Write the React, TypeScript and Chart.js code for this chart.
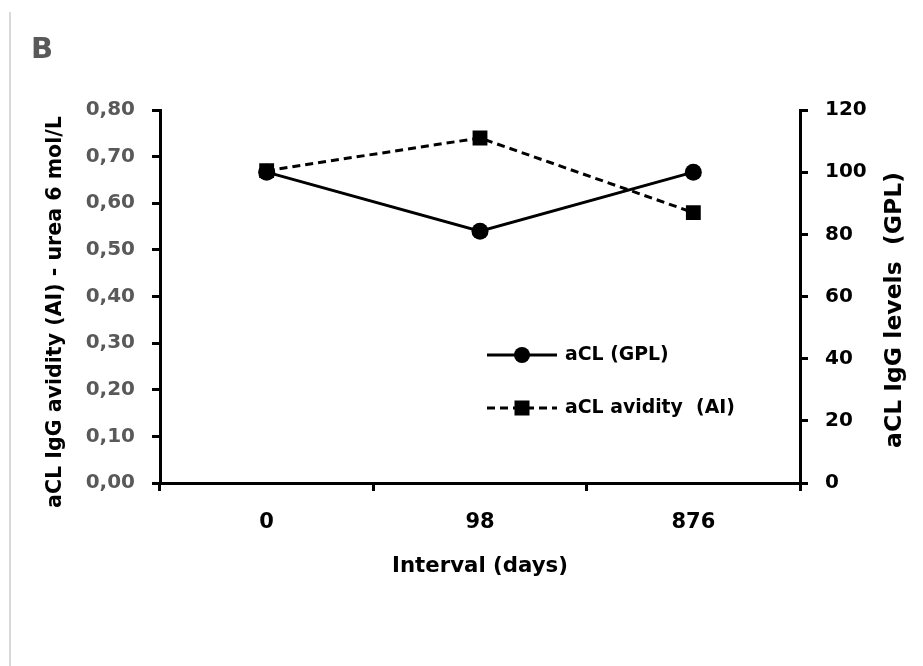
import React, { useEffect, useRef } from 'react';
import { Chart, registerables } from 'chart.js';

Chart.register(...registerables);

// ---- data ----
const categories: string[] = ['0', '98', '876'];
const gplValues: number[] = [100, 81, 100];
const avidityValues: number[] = [0.67, 0.74, 0.58];
const leftTickValues: number[] = [0, 0.1, 0.2, 0.3, 0.4, 0.5, 0.6, 0.7, 0.8];
const rightTickValues: number[] = [0, 20, 40, 60, 80, 100, 120];
const seriesNames: string[] = ['aCL (GPL)', 'aCL avidity  (AI)'];
const panelLabel = 'B';
const xTitle = 'Interval (days)';
const leftTitle = 'aCL IgG avidity (AI) - urea 6 mol/L';
const rightTitle = 'aCL IgG levels  (GPL)';

const FAMILY = '"DejaVu Sans", sans-serif';

function fitSize(ctx: CanvasRenderingContext2D, text: string, target: number): number {
  ctx.font = `bold 100px ${FAMILY}`;
  const w = ctx.measureText(text).width;
  return (100 * target) / w;
}

const decorPlugin = {
  id: 'decor',
  afterDraw(chart: any) {
    const ctx: CanvasRenderingContext2D = chart.ctx;
    const area = chart.chartArea;
    ctx.save();
    // left border line of the panel
    ctx.strokeStyle = '#d9d9d9';
    ctx.lineWidth = 2;
    ctx.beginPath();
    ctx.moveTo(10, 12);
    ctx.lineTo(10, chart.height);
    ctx.stroke();

    // panel label
    ctx.fillStyle = '#595959';
    ctx.font = `bold 29px ${FAMILY}`;
    ctx.textAlign = 'left';
    ctx.textBaseline = 'alphabetic';
    ctx.fillText(panelLabel, 31, 58);

    // axis titles
    ctx.fillStyle = '#000';
    ctx.textAlign = 'center';
    ctx.textBaseline = 'middle';
    let s = fitSize(ctx, xTitle, 176);
    ctx.font = `bold ${s}px ${FAMILY}`;
    ctx.fillText(xTitle, (area.left + area.right) / 2, 566);

    s = fitSize(ctx, leftTitle, 392);
    ctx.font = `bold ${s}px ${FAMILY}`;
    ctx.save();
    ctx.translate(56, 312);
    ctx.rotate(-Math.PI / 2);
    ctx.fillText(leftTitle, 0, 0);
    ctx.restore();

    s = fitSize(ctx, rightTitle, 276);
    ctx.font = `bold ${s}px ${FAMILY}`;
    ctx.save();
    ctx.translate(895, 310);
    ctx.rotate(-Math.PI / 2);
    ctx.fillText(rightTitle, 0, 0);
    ctx.restore();

    // legend
    const ls = fitSize(ctx, seriesNames[1], 170);
    const rows = [355, 408];
    const x0 = 487, x1 = 557, xm = 522;
    ctx.strokeStyle = '#000';
    ctx.fillStyle = '#000';
    ctx.lineWidth = 3;
    rows.forEach((y, i) => {
      ctx.setLineDash(i === 0 ? [] : [8, 5]);
      ctx.beginPath();
      ctx.moveTo(x0, y);
      ctx.lineTo(x1, y);
      ctx.stroke();
      ctx.setLineDash([]);
      if (i === 0) {
        ctx.beginPath();
        ctx.arc(xm, y, 8, 0, Math.PI * 2);
        ctx.fill();
      } else {
        ctx.fillRect(xm - 7.5, y - 7.5, 15, 15);
      }
      ctx.font = `bold ${ls}px ${FAMILY}`;
      ctx.textAlign = 'left';
      ctx.textBaseline = 'middle';
      ctx.fillText(seriesNames[i], 565, y);
    });
    ctx.restore();
  },
};

export default function App() {
  const ref = useRef<HTMLCanvasElement | null>(null);
  useEffect(() => {
    if (!ref.current) return;
    const tickFont = { family: FAMILY, size: 20, weight: 'bold' as const };
    const gridOpts = {
      drawOnChartArea: false,
      drawTicks: true,
      tickLength: 8,
      color: '#000',
      tickColor: '#000',
      lineWidth: 3,
      tickWidth: 3,
    };
    const chart = new Chart(ref.current, {
      type: 'line',
      data: {
        labels: categories,
        datasets: [
          {
            label: seriesNames[0],
            data: gplValues,
            yAxisID: 'y1',
            order: 0,
            borderColor: '#000',
            backgroundColor: '#000',
            borderWidth: 3,
            pointStyle: 'circle',
            pointRadius: 8.5,
            pointBorderWidth: 0,
            pointBackgroundColor: '#000',
            tension: 0,
          },
          {
            label: seriesNames[1],
            data: avidityValues,
            yAxisID: 'y',
            order: 1,
            borderColor: '#000',
            backgroundColor: '#000',
            borderWidth: 3,
            borderDash: [8, 5],
            pointStyle: 'rect',
            pointRadius: 10.5,
            pointBorderWidth: 0,
            pointBackgroundColor: '#000',
            tension: 0,
          },
        ],
      },
      options: {
        animation: false,
        responsive: false,
        maintainAspectRatio: false,
        layout: { padding: { top: 110, left: 0, right: 0, bottom: 0 } },
        plugins: { legend: { display: false }, tooltip: { enabled: false } },
        scales: {
          x: {
            type: 'category',
            offset: true,
            grid: { ...gridOpts, offset: true },
            border: { display: true, color: '#000', width: 3 },
            ticks: { font: { ...tickFont, size: 21 }, color: '#000', padding: 19, maxRotation: 0 },
            afterFit: (s: any) => { s.height = 183; },
          },
          y: {
            position: 'left',
            min: 0,
            max: 0.8,
            afterBuildTicks: (s: any) => { s.ticks = leftTickValues.map((v) => ({ value: v })); },
            grid: gridOpts,
            border: { display: true, color: '#000', width: 3 },
            ticks: {
              font: tickFont,
              color: '#595959',
              padding: 17,
              callback: (v: any) => Number(v).toFixed(2).replace('.', ','),
            },
            afterFit: (s: any) => { s.width = 160; },
          },
          y1: {
            position: 'right',
            min: 0,
            max: 120,
            afterBuildTicks: (s: any) => { s.ticks = rightTickValues.map((v) => ({ value: v })); },
            grid: gridOpts,
            border: { display: true, color: '#000', width: 3 },
            ticks: { font: tickFont, color: '#000', padding: 17 },
            afterFit: (s: any) => { s.width = 123; },
          },
        },
      },
      plugins: [decorPlugin],
    });
    return () => chart.destroy();
  }, []);
  return (
    <div style={{ position: 'fixed', left: 0, top: 0, width: 923, height: 666, background: '#fff' }}>
      <canvas ref={ref} width={923} height={666} style={{ width: 923, height: 666, display: 'block' }} />
    </div>
  );
}
